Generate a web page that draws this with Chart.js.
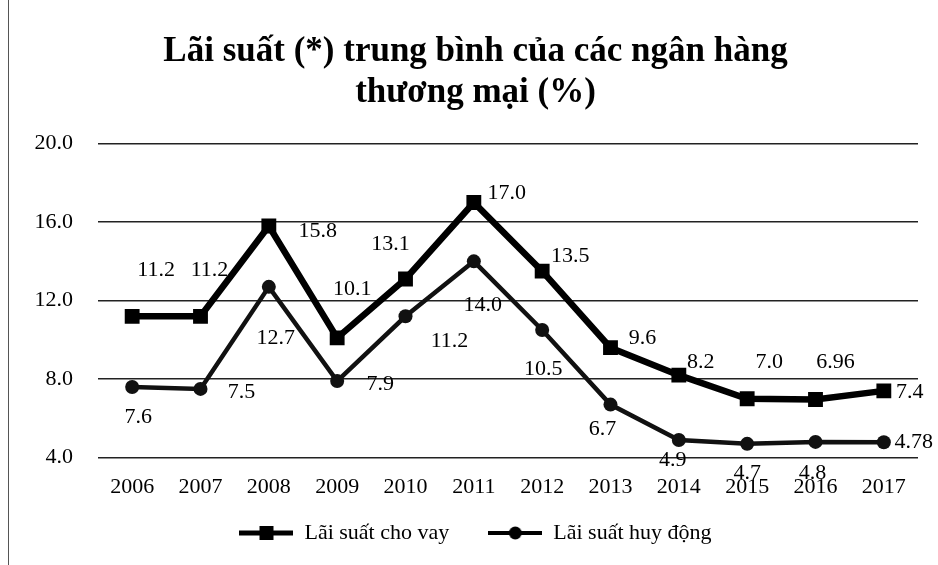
<!DOCTYPE html>
<html>
<head>
<meta charset="utf-8">
<script src="https://cdn.jsdelivr.net/npm/chart.js@4/dist/chart.umd.min.js"></script>
<style>
  body { margin: 0; background: #fff; }
  #wrap { position: relative; width: 938px; height: 565px; }
  #edge { position: absolute; left: 8px; top: 0; width: 1px; height: 565px; background: #555; }
</style>
</head>
<body>
<div id="wrap">
  <canvas id="laiSuatChart" width="938" height="565"></canvas>
  <div id="edge"></div>
</div>
<script>
const years = ['2006', '2007', '2008', '2009', '2010', '2011', '2012', '2013', '2014', '2015', '2016', '2017'];
const laiSuatChoVay = [11.2, 11.2, 15.8, 10.1, 13.1, 17.0, 13.5, 9.6, 8.2, 7.0, 6.96, 7.4];
const laiSuatHuyDong = [7.6, 7.5, 12.7, 7.9, 11.2, 14.0, 10.5, 6.7, 4.9, 4.7, 4.8, 4.78];
const yTicks = [4, 8, 12, 16, 20];

// label offsets (px) from each point, as placed in the original figure
const choVayLabelOffset = [[24,-46],[9,-46],[49,5],[15,-49],[-15,-35],[33,-9],[28,-15],[32,-9],[22,-13],[22,-37],[20,-37],[26,1]];
const huyDongLabelOffset = [[6,30],[41,3],[7,51],[43,3],[44,25],[9,44],[1,39],[-8,25],[-6,20],[0,29],[-3,31],[30,0]];

const serif = "'Liberation Serif', 'Times New Roman', serif";

function fmt(v) {
    return Number.isInteger(Math.round(v * 100) / 10) ? v.toFixed(1) : String(v);
}

// legend icons: line with marker
function makeIcon(kind) {
    const c = document.createElement('canvas');
    c.width = 54; c.height = 20;
    const g = c.getContext('2d');
    g.fillStyle = '#000';
    g.strokeStyle = '#000';
    g.lineWidth = kind === 'rect' ? 5 : 4;
    g.beginPath(); g.moveTo(0, 10); g.lineTo(54, 10); g.stroke();
    if (kind === 'rect') {
        g.fillRect(20, 3, 14, 14);
    } else {
        g.beginPath(); g.arc(27, 10, 6.5, 0, Math.PI * 2); g.fill();
    }
    return c;
}
const legendIcons = [makeIcon('rect'), makeIcon('circle')];

const dataLabels = {
    id: 'dataLabels',
    afterDatasetsDraw(chart) {
        const ctx = chart.ctx;
        const offsets = [choVayLabelOffset, huyDongLabelOffset];
        ctx.save();
        ctx.font = '22px ' + serif;
        ctx.fillStyle = '#000';
        ctx.textAlign = 'center';
        ctx.textBaseline = 'middle';
        chart.data.datasets.forEach((ds, i) => {
            const meta = chart.getDatasetMeta(i);
            meta.data.forEach((pt, j) => {
                const off = offsets[i][j];
                ctx.fillText(fmt(ds.data[j]), pt.x + off[0], pt.y + off[1]);
            });
        });
        ctx.restore();
    }
};

const ctx = document.getElementById('laiSuatChart').getContext('2d');
const laiSuatChart = new Chart(ctx, {
    type: 'line',
    data: {
        labels: years,
        datasets: [{
            label: 'Lãi suất cho vay',
            data: laiSuatChoVay,
            borderColor: '#000',
            backgroundColor: '#000',
            borderWidth: 6.5,
            pointStyle: 'rect',
            pointRadius: 10.5,
            pointBackgroundColor: '#000',
            pointBorderWidth: 0,
            tension: 0
        }, {
            label: 'Lãi suất huy động',
            data: laiSuatHuyDong,
            borderColor: '#111',
            backgroundColor: '#111',
            borderWidth: 4.5,
            pointStyle: 'circle',
            pointRadius: 7,
            pointBackgroundColor: '#111',
            pointBorderWidth: 0,
            tension: 0
        }]
    },
    options: {
        responsive: false,
        animation: false,
        layout: { padding: { left: 33, right: 20, top: 0, bottom: 11 } },
        scales: {
            y: {
                min: 4,
                max: 20,
                afterBuildTicks: axis => { axis.ticks = yTicks.map(v => ({ value: v })); },
                afterFit: axis => { axis.width = 65; },
                ticks: {
                    color: '#000',
                    padding: 25,
                    font: { family: serif, size: 22 },
                    callback: v => v.toFixed(1)
                },
                grid: { color: '#222', lineWidth: 1.5, drawTicks: false },
                border: { display: false }
            },
            x: {
                offset: true,
                ticks: {
                    color: '#000',
                    padding: 16,
                    font: { family: serif, size: 22 }
                },
                grid: { display: false, drawTicks: false },
                border: { display: false }
            }
        },
        plugins: {
            title: {
                display: true,
                text: ['Lãi suất (*) trung bình của các ngân hàng', 'thương mại (%)'],
                color: '#000',
                font: { family: serif, size: 35, weight: 'bold', lineHeight: 1.18 },
                padding: { top: 31, bottom: 30 }
            },
            legend: {
                position: 'bottom',
                labels: {
                    color: '#000',
                    font: { family: serif, size: 22 },
                    usePointStyle: true,
                    pointStyleWidth: 54,
                    boxHeight: 20,
                    padding: 6,
                    generateLabels: chart =>
                        Chart.defaults.plugins.legend.labels.generateLabels(chart).map((l, i) => ({
                            ...l,
                            text: i === 0 ? l.text + '      ' : l.text,
                            pointStyle: legendIcons[i]
                        }))
                }
            },
            tooltip: { enabled: false }
        }
    },
    plugins: [dataLabels]
});
</script>
</body>
</html>
